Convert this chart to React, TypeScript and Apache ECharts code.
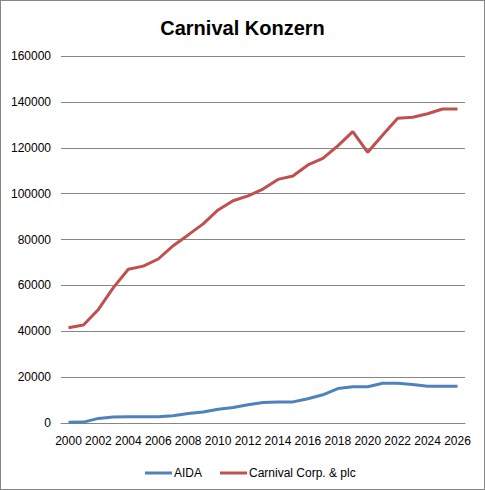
import React, { useEffect, useRef } from "react";
import * as echarts from "echarts";

const years = [
  "2000", "2001", "2002", "2003", "2004", "2005", "2006", "2007", "2008", "2009",
  "2010", "2011", "2012", "2013", "2014", "2015", "2016", "2017", "2018", "2019",
  "2020", "2021", "2022", "2023", "2024", "2025", "2026",
];
const aida = [
  300, 400, 2000, 2600, 2700, 2700, 2700, 3200, 4100, 4800,
  6000, 6800, 8000, 8900, 9200, 9200, 10600, 12300, 15000, 15800,
  15800, 17300, 17300, 16800, 16000, 16000, 16000,
];
const carnival = [
  41500, 42700, 49500, 59000, 67000, 68400, 71500, 77300, 82000, 86800,
  92900, 96900, 99000, 102000, 106200, 107700, 112500, 115400, 120800, 127000,
  118000, 125600, 132900, 133300, 134800, 136900, 136900,
];
const seriesNames = ["AIDA", "Carnival Corp. & plc"];
const title = "Carnival Konzern";

export default function App() {
  const ref = useRef<HTMLDivElement>(null);
  useEffect(() => {
    document.body.style.margin = "0";
    const chart = echarts.init(ref.current!, undefined, { renderer: "svg" });
    const font = "'Liberation Sans', Arial, sans-serif";
    chart.setOption({
      animation: false,
      backgroundColor: "#ffffff",
      title: {
        text: title,
        left: "center",
        top: 13,
        textStyle: { fontFamily: font, fontSize: 20, fontWeight: "bold", color: "#000" },
      },
      grid: { left: 61, right: 20, top: 56, bottom: 67, containLabel: false },
      legend: {
        left: 140,
        top: 462,
        icon: "rect",
        itemWidth: 27,
        itemHeight: 3,
        itemGap: 18,
        textStyle: { fontFamily: font, fontSize: 12, color: "#000", padding: [0, 0, 0, -3] },
        data: seriesNames,
      },
      xAxis: {
        type: "category",
        data: years,
        boundaryGap: true,
        axisLine: { lineStyle: { color: "#868686", width: 1 } },
        axisTick: { show: false },
        axisLabel: {
          interval: 1,
          fontFamily: font,
          fontSize: 12,
          color: "#000",
          margin: 12,
        },
      },
      yAxis: {
        type: "value",
        min: 0,
        max: 160000,
        interval: 20000,
        axisLine: { show: false },
        axisTick: { show: false },
        splitLine: { lineStyle: { color: "#868686", width: 1 } },
        axisLabel: {
          fontFamily: font,
          fontSize: 12,
          color: "#000",
          margin: 10,
          formatter: (v: number) => String(v),
        },
      },
      series: [
        {
          name: seriesNames[0],
          type: "line",
          data: aida,
          symbol: "none",
          lineStyle: { color: "#4F81BD", width: 3 },
          itemStyle: { color: "#4F81BD" },
        },
        {
          name: seriesNames[1],
          type: "line",
          data: carnival,
          symbol: "none",
          lineStyle: { color: "#C0504D", width: 3 },
          itemStyle: { color: "#C0504D" },
        },
      ],
    });
    return () => chart.dispose();
  }, []);
  return (
    <div
      style={{
        width: 485,
        height: 490,
        position: "relative",
      }}
    >
      <div ref={ref} style={{ width: 485, height: 490 }} />
      <div
        style={{
          position: "absolute",
          left: 0,
          top: 0,
          width: 483,
          height: 488,
          border: "1px solid #868686",
          pointerEvents: "none",
        }}
      />
    </div>
  );
}
